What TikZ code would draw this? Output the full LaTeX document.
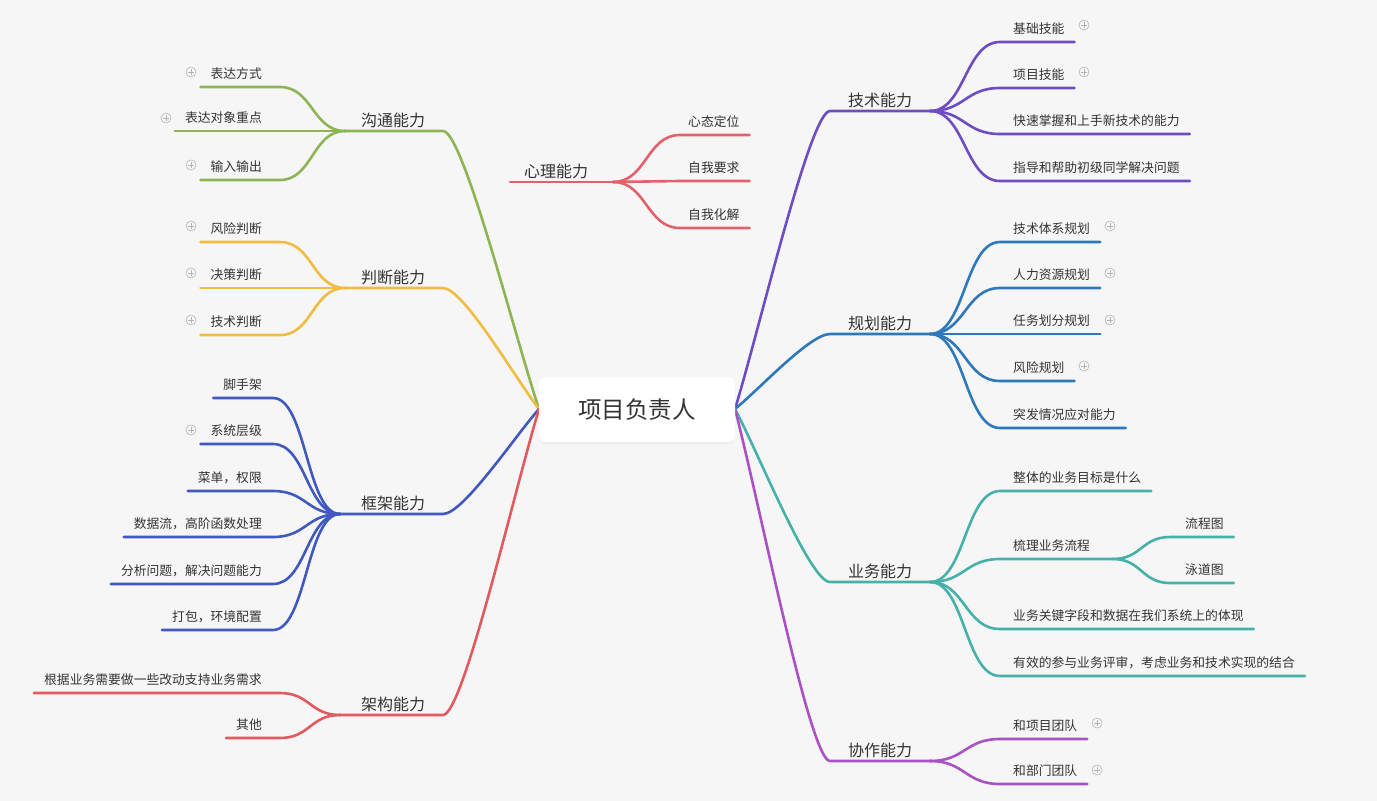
\documentclass[tikz,border=0pt]{standalone}
\usepackage{fontspec}
\setmainfont{Noto Sans CJK SC}
\usetikzlibrary{calc,shadows}
\definecolor{bg}{HTML}{F6F6F6}
\definecolor{txtc}{HTML}{333333}
\definecolor{plusgray}{HTML}{B4B4B4}
\definecolor{cgt}{HTML}{8DB554}
\definecolor{cpd}{HTML}{F2BB44}
\definecolor{ckj}{HTML}{4058BF}
\definecolor{cjg}{HTML}{E05A5E}
\definecolor{cxl}{HTML}{E2616B}
\definecolor{cjs}{HTML}{6E4CC2}
\definecolor{cgh}{HTML}{2E78BC}
\definecolor{cyw}{HTML}{45B1A8}
\definecolor{cxz}{HTML}{AA52C4}
\tikzset{
  ln/.style={line width=2.6pt, line cap=round, line join=round},
  ct/.style={font=\fontsize{12.8}{15}\selectfont, text=txtc, inner xsep=10pt, inner ysep=0pt, yshift=-1pt},
  tp/.style={font=\fontsize{16}{19}\selectfont, text=txtc, inner sep=0pt, anchor=base, yshift=-2pt},
  mb/.style={to path={let \p1=(\tikztostart), \p2=(\tikztotarget) in .. controls ({\x1+0.26*(\x2-\x1)},{\y1+0.27*(\y2-\y1)}) and ({\x2-0.21*(\x2-\x1)},\y2) .. (\tikztotarget)}},
  cs/.style={to path={let \p1=(\tikztostart), \p2=(\tikztotarget) in .. controls ({0.5*\x1+0.5*\x2},\y1) and ({0.5*\x1+0.5*\x2},\y2) .. (\tikztotarget)}},
  plusicon/.style={circle, draw=plusgray, line width=0.6pt, minimum size=10pt, inner sep=0pt,
    path picture={\draw[plusgray,line width=0.6pt] ([xshift=-3pt]path picture bounding box.center) -- ([xshift=3pt]path picture bounding box.center) ([yshift=-3pt]path picture bounding box.center) -- ([yshift=3pt]path picture bounding box.center);}},
  rootbox/.style={fill=white, rounded corners=6pt, minimum width=196pt, minimum height=65pt, inner sep=0pt,
    font=\fontsize{23.5}{27}\selectfont, text=txtc, drop shadow={opacity=0.07, shadow xshift=0pt, shadow yshift=-2pt}}
}
\begin{document}
\begin{tikzpicture}[x=1pt,y=-1pt]
\fill[bg] (0,0) rectangle (1377,801);
\useasboundingbox (0,0) rectangle (1377,801);

\coordinate (cl) at (539,409);
\coordinate (cr) at (735,409);

% ---------- 沟通能力 ----------
\coordinate (gtj) at (345,131);
\coordinate (gte) at (443,131);
\node[tp] (gt) at (393,124.5) {沟通能力};
\draw[ln,cgt] (cl) to[mb] (gte) -- (gtj);
\coordinate (gt1e) at (280,87);
\coordinate (gt2e) at (280,131);
\coordinate (gt3e) at (280,180);
\node[ct,anchor=base east] (gt1) at (272,77.5) {表达方式};
\node[ct,anchor=base east] (gt2) at (272,121.5) {表达对象重点};
\node[ct,anchor=base east] (gt3) at (272,170.5) {输入输出};
\draw[ln,cgt] (gtj) to[cs] (gt1e) -- (gt1.west |- gt1e);
\draw[ln,cgt] (gtj) to[cs] (gt2e) -- (gt2.west |- gt2e);
\draw[ln,cgt] (gtj) to[cs] (gt3e) -- (gt3.west |- gt3e);
\node[plusicon] (gt1p) at (191,72) {};
\node[plusicon] (gt2p) at (166,118) {};
\node[plusicon] (gt3p) at (191,165) {};

% ---------- 判断能力 ----------
\coordinate (pdj) at (345,288);
\coordinate (pde) at (443,288);
\node[tp] (pd) at (393,281.5) {判断能力};
\draw[ln,cpd] (cl) to[mb] (pde) -- (pdj);
\coordinate (pd1e) at (280,242);
\coordinate (pd2e) at (280,288);
\coordinate (pd3e) at (280,335);
\node[ct,anchor=base east] (pd1) at (272,232.5) {风险判断};
\node[ct,anchor=base east] (pd2) at (272,278.5) {决策判断};
\node[ct,anchor=base east] (pd3) at (272,325.5) {技术判断};
\draw[ln,cpd] (pdj) to[cs] (pd1e) -- (pd1.west |- pd1e);
\draw[ln,cpd] (pdj) to[cs] (pd2e) -- (pd2.west |- pd2e);
\draw[ln,cpd] (pdj) to[cs] (pd3e) -- (pd3.west |- pd3e);
\node[plusicon] (pd1p) at (191,226) {};
\node[plusicon] (pd2p) at (191,273) {};
\node[plusicon] (pd3p) at (191,320) {};

% ---------- 框架能力 ----------
\coordinate (kjj) at (340,514);
\coordinate (kje) at (443,514);
\node[tp] (kj) at (393,507.5) {框架能力};
\draw[ln,ckj] (cl) to[mb] (kje) -- (kjj);
\coordinate (kj1e) at (273,398);
\coordinate (kj2e) at (273,444);
\coordinate (kj3e) at (273,491);
\coordinate (kj4e) at (273,537);
\coordinate (kj5e) at (273,584);
\coordinate (kj6e) at (273,630);
\node[ct,anchor=base east] (kj1) at (272,388.5) {脚手架};
\node[ct,anchor=base east] (kj2) at (272,434.5) {系统层级};
\node[ct,anchor=base east] (kj3) at (272,481.5) {菜单，权限};
\node[ct,anchor=base east] (kj4) at (272,527.5) {数据流，高阶函数处理};
\node[ct,anchor=base east] (kj5) at (272,574.5) {分析问题，解决问题能力};
\node[ct,anchor=base east] (kj6) at (272,620.5) {打包，环境配置};
\draw[ln,ckj] (kjj) to[cs] (kj1e) -- (kj1.west |- kj1e);
\draw[ln,ckj] (kjj) to[cs] (kj2e) -- (kj2.west |- kj2e);
\draw[ln,ckj] (kjj) to[cs] (kj3e) -- (kj3.west |- kj3e);
\draw[ln,ckj] (kjj) to[cs] (kj4e) -- (kj4.west |- kj4e);
\draw[ln,ckj] (kjj) to[cs] (kj5e) -- (kj5.west |- kj5e);
\draw[ln,ckj] (kjj) to[cs] (kj6e) -- (kj6.west |- kj6e);
\node[plusicon] (kj2p) at (191,430) {};

% ---------- 架构能力 ----------
\coordinate (jgj) at (340,715);
\coordinate (jge) at (443,715);
\node[tp] (jg) at (393,708.5) {架构能力};
\draw[ln,cjg] (cl) to[mb] (jge) -- (jgj);
\coordinate (jg1e) at (280,693);
\coordinate (jg2e) at (280,738);
\node[ct,anchor=base east] (jg1) at (272,683.5) {根据业务需要做一些改动支持业务需求};
\node[ct,anchor=base east] (jg2) at (272,728.5) {其他};
\draw[ln,cjg] (jgj) to[cs] (jg1e) -- (jg1.west |- jg1e);
\draw[ln,cjg] (jgj) to[cs] (jg2e) -- (jg2.west |- jg2e);

% ---------- 心理能力 (floating) ----------
\coordinate (xls) at (510,182);
\coordinate (xlj) at (613,182);
\node[tp] (xl) at (556,175.5) {心理能力};
\draw[ln,cxl] (xls) -- (xlj);
\coordinate (xl1e) at (680,135);
\coordinate (xl2e) at (680,181);
\coordinate (xl3e) at (680,228);
\node[ct,anchor=base west] (xl1) at (678,125.5) {心态定位};
\node[ct,anchor=base west] (xl2) at (678,171.5) {自我要求};
\node[ct,anchor=base west] (xl3) at (678,218.5) {自我化解};
\draw[ln,cxl] (xlj) to[cs] (xl1e) -- (xl1.east |- xl1e);
\draw[ln,cxl] (xlj) to[cs] (xl2e) -- (xl2.east |- xl2e);
\draw[ln,cxl] (xlj) to[cs] (xl3e) -- (xl3.east |- xl3e);

% ---------- 技术能力 ----------
\coordinate (jss) at (830,111);
\coordinate (jsj) at (930,111);
\node[tp] (js) at (880,104.5) {技术能力};
\draw[ln,cjs] (cr) to[mb] (jss) -- (jsj);
\coordinate (js1e) at (1000,42);
\coordinate (js2e) at (1000,88);
\coordinate (js3e) at (1000,134);
\coordinate (js4e) at (1000,181);
\node[ct,anchor=base west] (js1) at (1003,32.5) {基础技能};
\node[ct,anchor=base west] (js2) at (1003,78.5) {项目技能};
\node[ct,anchor=base west] (js3) at (1003,124.5) {快速掌握和上手新技术的能力};
\node[ct,anchor=base west] (js4) at (1003,171.5) {指导和帮助初级同学解决问题};
\draw[ln,cjs] (jsj) to[cs] (js1e) -- (js1.east |- js1e);
\draw[ln,cjs] (jsj) to[cs] (js2e) -- (js2.east |- js2e);
\draw[ln,cjs] (jsj) to[cs] (js3e) -- (js3.east |- js3e);
\draw[ln,cjs] (jsj) to[cs] (js4e) -- (js4.east |- js4e);
\node[plusicon] (js1p) at (1084,25) {};
\node[plusicon] (js2p) at (1084,72) {};

% ---------- 规划能力 ----------
\coordinate (ghs) at (830,334);
\coordinate (ghj) at (930,334);
\node[tp] (gh) at (880,327.5) {规划能力};
\draw[ln,cgh] (cr) to[mb] (ghs) -- (ghj);
\coordinate (gh1e) at (1000,242);
\coordinate (gh2e) at (1000,288);
\coordinate (gh3e) at (1000,334);
\coordinate (gh4e) at (1000,381);
\coordinate (gh5e) at (1000,428);
\node[ct,anchor=base west] (gh1) at (1003,232.5) {技术体系规划};
\node[ct,anchor=base west] (gh2) at (1003,278.5) {人力资源规划};
\node[ct,anchor=base west] (gh3) at (1003,324.5) {任务划分规划};
\node[ct,anchor=base west] (gh4) at (1003,371.5) {风险规划};
\node[ct,anchor=base west] (gh5) at (1003,418.5) {突发情况应对能力};
\draw[ln,cgh] (ghj) to[cs] (gh1e) -- (gh1.east |- gh1e);
\draw[ln,cgh] (ghj) to[cs] (gh2e) -- (gh2.east |- gh2e);
\draw[ln,cgh] (ghj) to[cs] (gh3e) -- (gh3.east |- gh3e);
\draw[ln,cgh] (ghj) to[cs] (gh4e) -- (gh4.east |- gh4e);
\draw[ln,cgh] (ghj) to[cs] (gh5e) -- (gh5.east |- gh5e);
\node[plusicon] (gh1p) at (1110,226) {};
\node[plusicon] (gh2p) at (1110,273) {};
\node[plusicon] (gh3p) at (1110,320) {};
\node[plusicon] (gh4p) at (1084,366) {};

% ---------- 业务能力 ----------
\coordinate (yws) at (830,582);
\coordinate (ywj) at (930,582);
\node[tp] (yw) at (880,575.5) {业务能力};
\draw[ln,cyw] (cr) to[mb] (yws) -- (ywj);
\coordinate (yw1e) at (1000,491);
\coordinate (yw2e) at (1000,559);
\coordinate (yw3e) at (1000,629);
\coordinate (yw4e) at (1000,676);
\coordinate (yw2j) at (1113,559);
\node[ct,anchor=base west] (yw1) at (1003,481.5) {整体的业务目标是什么};
\node[ct,anchor=base west] (yw2) at (1003,549.5) {梳理业务流程};
\node[ct,anchor=base west] (yw3) at (1003,619.5) {业务关键字段和数据在我们系统上的体现};
\node[ct,anchor=base west] (yw4) at (1003,666.5) {有效的参与业务评审，考虑业务和技术实现的结合};
\draw[ln,cyw] (ywj) to[cs] (yw1e) -- (yw1.east |- yw1e);
\draw[ln,cyw] (ywj) to[cs] (yw2e) -- (yw2j);
\draw[ln,cyw] (ywj) to[cs] (yw3e) -- (yw3.east |- yw3e);
\draw[ln,cyw] (ywj) to[cs] (yw4e) -- (yw4.east |- yw4e);
\coordinate (yw21e) at (1170,537);
\coordinate (yw22e) at (1170,583);
\node[ct,anchor=base west] (yw21) at (1175,527.5) {流程图};
\node[ct,anchor=base west] (yw22) at (1175,573.5) {泳道图};
\draw[ln,cyw] (yw2j) to[cs] (yw21e) -- (yw21.east |- yw21e);
\draw[ln,cyw] (yw2j) to[cs] (yw22e) -- (yw22.east |- yw22e);

% ---------- 协作能力 ----------
\coordinate (xzs) at (830,761);
\coordinate (xzj) at (930,761);
\node[tp] (xz) at (880,754.5) {协作能力};
\draw[ln,cxz] (cr) to[mb] (xzs) -- (xzj);
\coordinate (xz1e) at (1000,739);
\coordinate (xz2e) at (1000,784);
\node[ct,anchor=base west] (xz1) at (1003,729.5) {和项目团队};
\node[ct,anchor=base west] (xz2) at (1003,774.5) {和部门团队};
\draw[ln,cxz] (xzj) to[cs] (xz1e) -- (xz1.east |- xz1e);
\draw[ln,cxz] (xzj) to[cs] (xz2e) -- (xz2.east |- xz2e);
\node[plusicon] (xz1p) at (1097,723) {};
\node[plusicon] (xz2p) at (1097,770) {};

% ---------- root ----------
\node[rootbox] (root) at (637,409.5) {项目负责人};
\end{tikzpicture}
\end{document}
